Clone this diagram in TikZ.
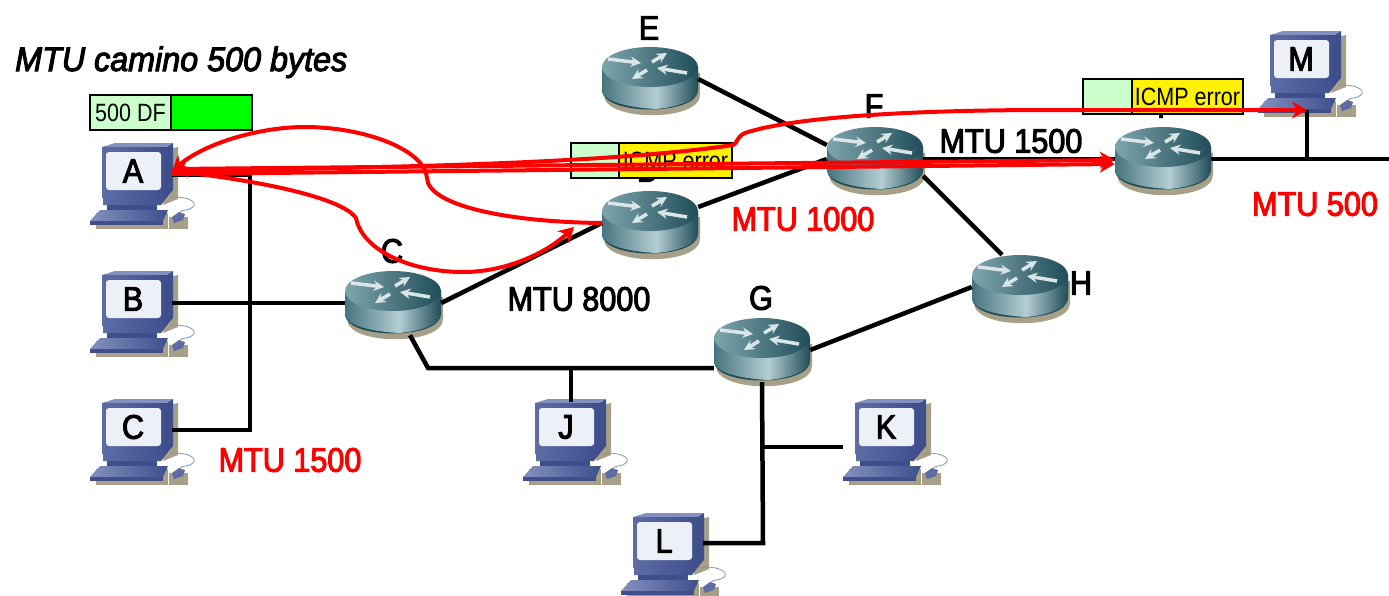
\documentclass[tikz,border=0pt]{standalone}
\usepackage{fontspec}
\setmainfont{Liberation Sans}
\newfontfamily\lblfont[FakeStretch=0.9,FakeBold=3]{Liberation Sans}
\newfontfamily\titlefont[FakeStretch=0.95,FakeBold=3]{Liberation Sans}
\newfontfamily\boxfont[FakeStretch=0.86]{Liberation Sans}
\usetikzlibrary{arrows.meta,backgrounds,calc}
\definecolor{tanshadow}{HTML}{A89F88}
\definecolor{lightgreen}{HTML}{CCFFCC}
\definecolor{routerleft}{HTML}{47757F}
\definecolor{routermid}{HTML}{B4CDD3}
\definecolor{routerright}{HTML}{1F4D58}
\definecolor{routertop}{HTML}{7FA5AC}
\definecolor{hostlight}{HTML}{8490BE}
\definecolor{hostmid}{HTML}{5E6CA6}
\definecolor{hostdark}{HTML}{3E4F8C}
\definecolor{hostscreen}{HTML}{EDF1F7}

\tikzset{
  pics/router/.style={code={
    \fill[tanshadow] (-46,-6) -- (-46,16) .. controls (-46,43) and (50,43) .. (50,16) -- (50,-6) -- cycle;
    \fill[routerright] (-48,-12) -- (-48,11) .. controls (-48,37) and (48,37) .. (48,11) -- (48,-12) -- cycle;
    \shade[left color=routerleft,right color=routermid] (-48,-12) -- (-48,11) .. controls (-48,20) and (-30,28) .. (6,30) -- (6,-12) -- cycle;
    \shade[left color=routermid,right color=routerright] (6,-12) -- (6,30) .. controls (30,28) and (48,20) .. (48,11) -- (48,-12) -- cycle;
    \shade[shading angle=100,left color=routertop,right color=routerright] (0,-12) ellipse [x radius=48pt,y radius=20pt];
    \draw[arrowglyph] (-42,-20) -- (-9,-16);
    \draw[arrowglyph] (2,-17) -- (17,-26);
    \draw[arrowglyph] (37,-6) -- (7,-11);
    \draw[arrowglyph] (-3,-9) -- (-18,0);
  }},
  pics/computer/.style={code={
    \fill[tanshadow] (36,-22) -- (45,-24) -- (45,28) -- (30,34) -- cycle;
    \fill[tanshadow] (-37,42) -- (35,42) -- (35,58) -- (-37,58) -- cycle;
    \fill[tanshadow] (36,46) -- (55,46) -- (55,58) -- (36,58) -- cycle;
    \draw[hostlight,line width=.8pt] (37,27) .. controls (50,24) and (66,30) .. (60,36) .. controls (56,40) and (50,38) .. (47,41);
    \fill[hostlight] (-31,-24) -- (-18,-28) -- (40,-28) -- (34,-24) -- cycle;
    \fill[hostdark] (34,-24) -- (40,-28) -- (40,19) -- (34,26) -- cycle;
    \shade[left color=hostmid,right color=hostdark] (-31,-24) rectangle (34,26);
    \fill[hostscreen,rounded corners=3pt] (-27,-19) rectangle (28,19);
    \shade[left color=hostmid,right color=hostdark] (-30,26) -- (34,26) -- (28,34) -- (-30,34) -- cycle;
    \fill[hostdark] (-26,34) -- (24,34) -- (24,39) -- (-26,39) -- cycle;
    \shade[left color=hostlight,right color=hostdark] (-33,39) -- (35,39) -- (30,50) -- (-43,50) -- cycle;
    \fill[hostdark] (-43,50) -- (30,50) -- (30,54) -- (-43,54) -- cycle;
    \fill[hostmid] (39,46) -- (46,41) -- (52,43) -- (50,49) -- (41,52) -- cycle;
  }},
  arrowglyph/.style={->,>=stealth,draw=routermid!50!white,line width=3.5pt},
  lbl/.style={font=\lblfont\fontsize{34}{34}\selectfont,inner sep=0pt},
  redlbl/.style={lbl,text=red},
  host/.style={lbl,rectangle,minimum width=78pt,minimum height=50pt,inner sep=0pt},
  router/.style={rectangle,minimum width=96pt,minimum height=64pt,inner sep=0pt},
  link/.style={line width=4.5pt,line join=miter},
  wire/.style={draw=red,line width=4pt,>={Stealth[length=15pt,width=17pt]}},
  pkt/.style={draw=black,line width=2pt,minimum height=35pt,inner sep=0pt,outer sep=0pt,font=\boxfont\fontsize{25}{25}\selectfont},
}

\begin{document}
\begin{tikzpicture}[x=1pt,y=-1pt,node distance=128pt]
    \useasboundingbox (0,0) rectangle (1389,595);

    \node[host] (hA) at (133,171) {A};
    \node[host] (hB) [below of = hA] {B};
    \node[host] (hC) [below of = hB] {C};
    \node[host] (hJ) at (566,427) {J};
    \node[host] (hK) at (886,427) {K};
    \node[host] (hL) at (664,541) {L};
    \node[host] (hM) at (1301,59) {M};

    \node[router] (rC) at (393,303) {};
    \node[router] (rD) at (650,223) {};
    \node[router] (rE) at (650,79) {};
    \node[router] (rF) at (875,159) {};
    \node[router] (rG) at (762,350) {};
    \node[router] (rH) at (1020,287) {};
    \node[router] (rI) at (1163,159) {};

    \begin{scope}[on background layer]
        \foreach \name in {hA,hB,hC,hJ,hK,hL,hM}
            \pic at (\name) {computer};
        \foreach \name in {rC,rD,rE,rF,rG,rH,rI}
            \pic at (\name) {router};
    \end{scope}

    \node[lbl] (lC) at (392,251) {C};
    \node[lbl] (lD) at (648,170) {D};
    \node[lbl] (lE) at (649,28) {E};
    \node[lbl] (lF) at (874,106) {F};
    \node[lbl] (lG) at (761,298) {G};
    \node[lbl] (lH) at (1081,283) {H};
    \node[lbl] (lI) at (1161,106) {I};

    \node[lbl,font=\titlefont\fontsize{34}{34}\selectfont,anchor=base west] (title) at (15,71) {\itshape MTU camino 500 bytes};
    \node[redlbl] (mtuA) at (290,460) {MTU 1500};
    \node[lbl] (mtuB) at (579,299) {MTU 8000};
    \node[redlbl] (mtuC) at (803,219) {MTU 1000};
    \node[lbl] (mtuD) at (1011,141) {MTU 1500};
    \node[redlbl] (mtuE) at (1315,204) {MTU 500};

    \coordinate (busA) at (250,175);
    \coordinate (busC) at (250,430);
    \coordinate (tapCG) at (428,368);
    \coordinate (tapJ) at (571,368);
    \coordinate (tapK) at (763,447);
    \coordinate (tipK) at (843,447);
    \coordinate (cornerL) at (763,543);
    \coordinate (tapM) at (1307,159);
    \coordinate (tipM) at (1307,110);
    \coordinate (endM) at (1389,159);

    \draw[link] ([yshift=-4pt]hA.east) -- (busA) -- (busC) -- ([yshift=-3pt]hC.east);
    \draw[link] ([yshift=-4pt]hB.east) -- (rC.west);
    \draw[link] (rC.east) -- (rD.west);
    \draw[link] ([yshift=16pt]rD.east) -- (rF.west);
    \draw[link] (rE.east) -- ([yshift=14pt]rF.west);
    \draw[link] ([yshift=-17pt]rF.east) -- ([xshift=-18pt]rH.north);
    \draw[link] (rF.east) -- (rI.west);
    \draw[link] (rI.east) -- (endM);
    \draw[link] (tapM) -- (tipM);
    \draw[link] ([xshift=17pt]rC.south) -- (tapCG) -- ([yshift=-18pt]rG.west);
    \draw[link] (tapJ) -- (tapJ |- hJ.north);
    \draw[link] (rG.east) -- (rH.west);
    \draw[link] (rG.south) -- (cornerL) -- ([yshift=-2pt]hL.east);
    \draw[link] (tapK) -- (tipK);

    \node[pkt,fill=lightgreen,minimum width=81pt,anchor=west] (dfA) at (90,112.5) {500 DF};
    \node[pkt,fill=green,minimum width=81pt,anchor=west] (dfB) at (dfA.east) {};
    \node[pkt,fill=lightgreen,minimum width=48pt,anchor=west] (icmpA) at (571,160.5) {};
    \node[pkt,fill=yellow,minimum width=113pt,anchor=west] (icmpB) at (icmpA.east) {ICMP error};
    \node[pkt,fill=lightgreen,minimum width=49pt,anchor=west] (icmpC) at (1083,96.5) {};
    \node[pkt,fill=yellow,minimum width=111pt,anchor=west] (icmpD) at (icmpC.east) {ICMP error};

    \draw[wire,<->] ([yshift=2pt]hA.east) -- ([yshift=-1pt]rI.west);
    \draw[wire,->] ([yshift=-3pt]hA.east) -- ([yshift=-5pt]rI.west);
    \draw[wire,->] (hA.east) .. controls (350,168) and (600,165) .. (733,145)
        .. controls (738,143) and (736,137) .. (745,133)
        .. controls (790,118) and (900,110) .. (1050,110) -- (tipM);
    \draw[wire,<-] (hA.east) .. controls (205,143) and (260,127) .. (305,127)
        .. controls (365,127) and (425,150) .. (427,178)
        .. controls (428,205) and (505,222) .. (rD.west);
    \draw[wire,->] (hA.east) .. controls (240,178) and (340,195) .. (356,218)
        .. controls (362,250) and (410,272) .. (463,272)
        .. controls (510,272) and (550,250) .. (574,227);
\end{tikzpicture}
\end{document}
